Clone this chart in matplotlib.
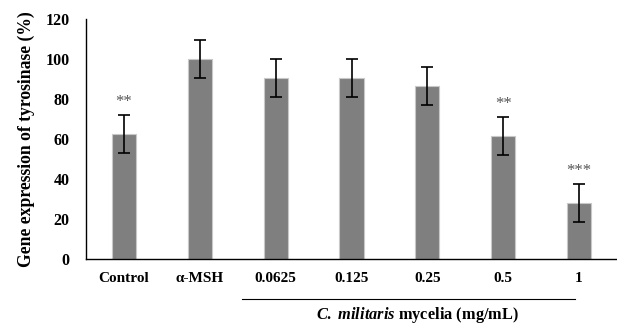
import matplotlib.pyplot as plt
import numpy as np

categories = ['Control', 'α-MSH', '0.0625', '0.125', '0.25', '0.5', '1']
values = [62.5, 100, 90.5, 90.5, 86.5, 61.5, 28]
errors = [9.5, 9.7, 9.5, 9.5, 9.5, 9.4, 9.5]
marks = ['**', '', '', '', '', '**', '***']

plt.rcParams['font.family'] = ['Liberation Serif', 'DejaVu Serif']
plt.rcParams['font.weight'] = 'bold'
plt.rcParams['mathtext.fontset'] = 'custom'
plt.rcParams['mathtext.rm'] = 'Liberation Serif:bold'
plt.rcParams['mathtext.it'] = 'Liberation Serif:bold:italic'
plt.rcParams['mathtext.bf'] = 'Liberation Serif:bold'

fig = plt.figure(figsize=(6.17, 3.24), dpi=100)
ax = fig.add_axes([86 / 617, 1 - 259 / 324, 531 / 617, 240 / 324])

x = np.arange(len(categories))
ax.bar(x, values, width=0.32, color='#7f7f7f', edgecolor='#c8c8c8', linewidth=0.8)
ax.errorbar(x, values, yerr=errors, fmt='none', ecolor='black', elinewidth=1.2,
            capsize=4, capthick=1.2)

for xi, v, e, m in zip(x, values, errors, marks):
    if m:
        ax.text(xi, v + e + 2.5, m, ha='center', va='bottom', fontsize=12,
                fontweight='normal', color='#555555')

ax.set_xlim(-0.5, 6.5)
ax.set_ylim(0, 120)
ax.set_yticks(range(0, 121, 20))
ax.set_xticks(x)
ax.set_xticklabels(categories, fontsize=11, fontweight='bold')
ax.tick_params(axis='y', length=0, labelsize=11.5, pad=12)
ax.tick_params(axis='x', length=0, pad=9)
for lbl in ax.get_yticklabels():
    lbl.set_fontweight('bold')
ax.spines['top'].set_visible(False)
ax.spines['right'].set_visible(False)
ax.spines['left'].set_linewidth(1.0)
ax.spines['bottom'].set_linewidth(1.0)

ax.set_ylabel('Gene expression of tyrosinase (%)', fontsize=12.7, fontweight='bold', labelpad=7)

# group line and label under the extract concentrations
ax.plot([1.55, 5.95], [-0.165 * 120, -0.165 * 120], color='black', lw=0.8,
        clip_on=False)
ax.text(3.87, -0.235 * 120, r'$\mathit{C.}$ $\mathit{militaris}$ mycelia (mg/mL)',
        ha='center', va='center', fontsize=11.8, fontweight='bold')

fig.savefig('out.png', dpi=100)
